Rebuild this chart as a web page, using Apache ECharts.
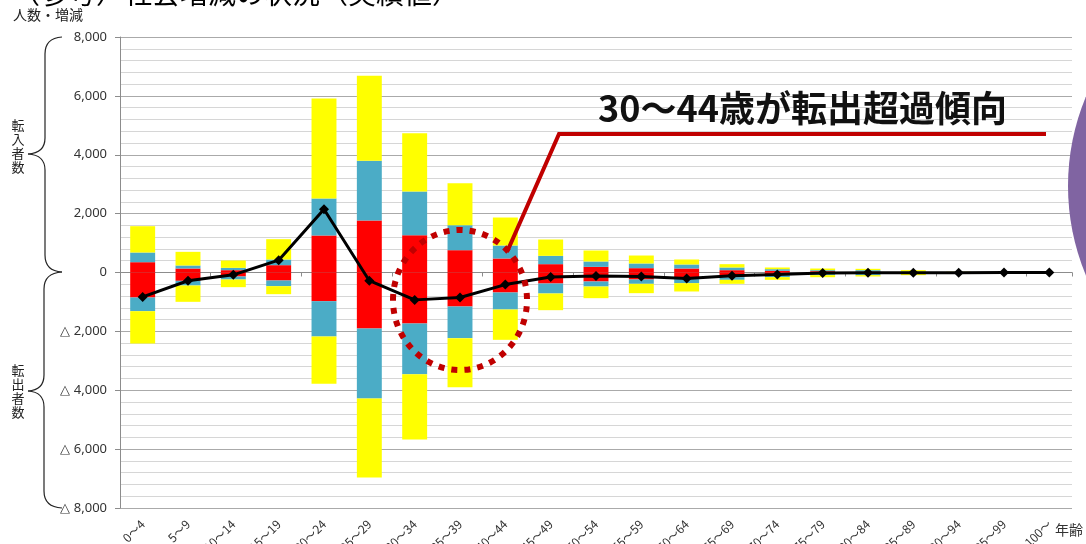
<!DOCTYPE html>
<html><head><meta charset="utf-8">
<script src="https://cdn.jsdelivr.net/npm/echarts@6/dist/echarts.min.js"></script>
<style>html,body{margin:0;padding:0;background:#fff}#c{width:1086px;height:544px}</style>
</head><body><div id="c"></div>
<script>
const categories = ['0～4','5～9','10～14','15～19','20～24','25～29','30～34','35～39','40～44','45～49','50～54','55～59','60～64','65～69','70～74','75～79','80～84','85～89','90～94','95～99','100～'];
// 転入 (positive) segments
const inRed    = [350,136,79,249,1257,1766,1268,758,476,283,192,147,136,79,57,45,30,10,5,1,0];
const inBlue   = [329,102,79,192,1257,2027,1483,850,441,283,182,159,136,91,56,35,50,20,5,1,0];
const inYellow = [894,464,250,691,3396,2887,1982,1426,951,555,373,271,170,113,57,55,45,50,15,3,0];
// 転出 (negative) segments
const outRed    = [-849,-283,-136,-272,-974,-1902,-1732,-1155,-679,-374,-306,-238,-226,-158,-91,-45,-30,-15,-5,-1,0];
const outBlue   = [-465,-158,-102,-192,-1200,-2378,-1722,-1075,-578,-339,-170,-147,-136,-91,-67,-45,-60,-25,-10,-1,0];
const outYellow = [-1098,-555,-260,-272,-1608,-2683,-2218,-1665,-1030,-567,-396,-317,-283,-136,-91,-70,-45,-50,-15,-3,0];
// 増減
const net = [-830,-280,-80,420,2150,-280,-930,-850,-410,-155,-115,-135,-205,-110,-70,-20,-10,-5,-5,0,0];
const yTicks = {min:-8000, max:8000, interval:2000};

const chart = echarts.init(document.getElementById('c'), null, {renderer:'canvas'});
const RED='#FF0000', BLUE='#4BACC6', YEL='#FFFF00';
function bar(name, data, color){
  return {name, type:'bar', stack:'all', data, xAxisIndex:0, barWidth:'55%',
    itemStyle:{color}, emphasis:{disabled:true}, animation:false, z:2};
}
const fmt = v => {
  const s = Math.abs(v).toLocaleString('en-US');
  return v < 0 ? '△ ' + s : s;
};
const JP = '"Noto Sans CJK JP", "Noto Sans", sans-serif';
// brace made of quadratic curves and lines
function brace(xTip, xLine, xEnd, yTop, yMid, yBot){
  const st = {fill:'none', stroke:'#222', lineWidth:1.2};
  const q = (x1,y1,cx,cy,x2,y2) => ({type:'bezierCurve', z:10, shape:{x1,y1,x2,y2,cpx1:cx,cpy1:cy}, style:st});
  const l = (x1,y1,x2,y2) => ({type:'line', z:10, shape:{x1,y1,x2,y2}, style:st});
  return [
    q(xEnd,yTop, xLine,yTop+1, xLine,yTop+17),
    l(xLine,yTop+17, xLine,yMid-16),
    q(xLine,yMid-16, xLine,yMid-1, xTip,yMid),
    q(xTip,yMid, xLine,yMid+1, xLine,yMid+16),
    l(xLine,yMid+16, xLine,yBot-17),
    q(xLine,yBot-17, xLine,yBot-1, xEnd,yBot)
  ];
}
chart.setOption({
  animation:false,
  backgroundColor:'#fff',
  grid:{left:120, right:14, top:37, bottom:36, containLabel:false, outerBoundsMode:'none'},
  xAxis:[
    {type:'category', data:categories, position:'bottom',
     axisLine:{show:false, onZero:false}, axisTick:{show:false},
     axisLabel:{rotate:45, margin:14, fontSize:12, color:'#333', fontFamily:JP, interval:0},
     splitLine:{show:false}},
    {type:'category', data:categories, position:'bottom',
     axisLine:{show:true, onZero:true, lineStyle:{color:'#8c8c8c', width:1}},
     axisTick:{show:true, length:4, lineStyle:{color:'#8c8c8c'}},
     axisLabel:{show:false}, splitLine:{show:false}}
  ],
  yAxis:{type:'value', min:yTicks.min, max:yTicks.max, interval:yTicks.interval,
    axisLine:{show:true, lineStyle:{color:'#8c8c8c'}},
    axisTick:{show:true, length:5, lineStyle:{color:'#8c8c8c'}},
    axisLabel:{formatter:fmt, fontSize:13, color:'#333', margin:13, fontFamily:'"Noto Sans", sans-serif'},
    splitLine:{show:true, lineStyle:{color:'#aaaaaa', width:1}},
    minorTick:{show:false, splitNumber:5},
    minorSplitLine:{show:true, lineStyle:{color:'#d6d6d6', width:1}}
  },
  series:[
    bar('転入1', inRed, RED), bar('転入2', inBlue, BLUE), bar('転入3', inYellow, YEL),
    bar('転出1', outRed, RED), bar('転出2', outBlue, BLUE), bar('転出3', outYellow, YEL),
    {name:'増減', type:'line', data:net, xAxisIndex:0, z:5,
     lineStyle:{color:'#000', width:3}, itemStyle:{color:'#000'},
     symbol:'diamond', symbolSize:10, showSymbol:true, emphasis:{disabled:true}}
  ],
  graphic:[
    {type:'text', x:12, y:-21, z:10, style:{text:'（参考）社会増減の状況（実績値）', font:'28px '+JP, fill:'#000'}},
    {type:'text', x:13, y:8, z:10, style:{text:'人数・増減', font:'14px '+JP, fill:'#222'}},
    {type:'text', x:1055, y:523, z:10, style:{text:'年齢', font:'14px '+JP, fill:'#333'}},
    ...brace(28, 45, 62, 37, 154, 272),
    ...brace(28, 44, 62, 272, 391, 508),
    {type:'text', x:18, y:118, z:10, style:{text:'転\n入\n者\n数', font:'13px '+JP, lineHeight:14, align:'center', fill:'#222'}},
    {type:'text', x:18, y:363, z:10, style:{text:'転\n出\n者\n数', font:'13px '+JP, lineHeight:14, align:'center', fill:'#222'}},
    {type:'circle', z:8, shape:{cx:1300, cy:186, r:232}, style:{fill:'#8064A2'}},
    {type:'ellipse', z:9, shape:{cx:460, cy:300, rx:67, ry:70}, style:{fill:'none', stroke:'#C00000', lineWidth:6, lineDash:[6,7]}},
    {type:'polyline', z:9, shape:{points:[[507,252],[559,134],[1046,134]]}, style:{fill:'none', stroke:'#C00000', lineWidth:4}},
    {type:'text', x:598, y:90, z:10, style:{text:'30～44歳が転出超過傾向', font:'bold 36px '+JP, fill:'#111'}}
  ]
});
</script></body></html>
